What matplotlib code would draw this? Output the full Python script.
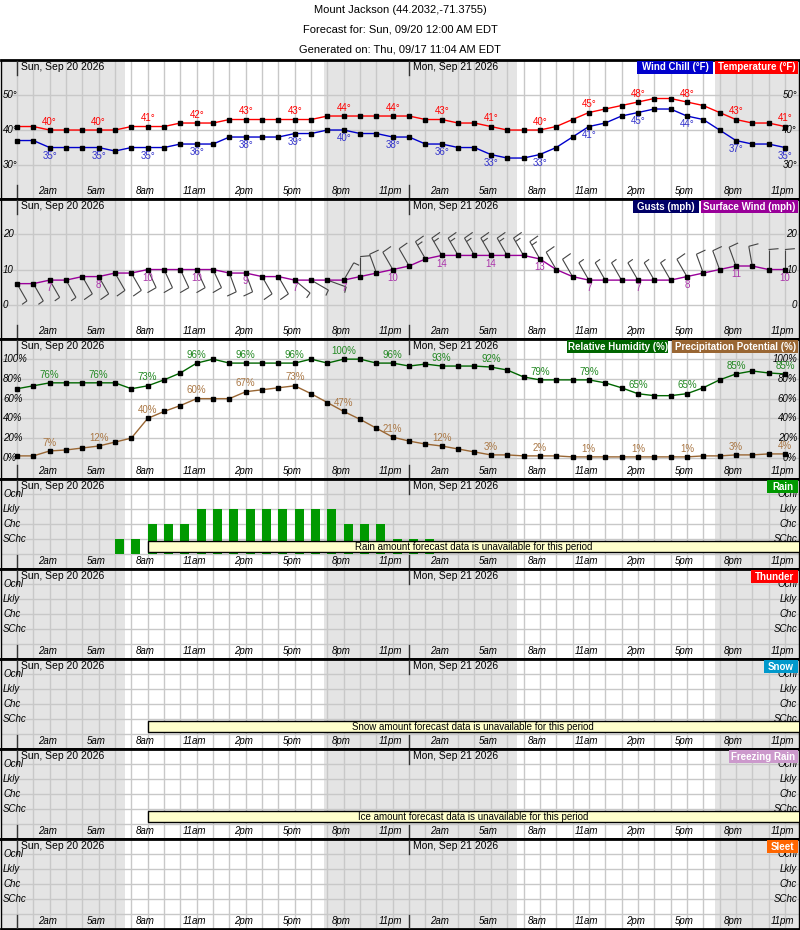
import numpy as np
import matplotlib
matplotlib.use("Agg")
import matplotlib.pyplot as plt
from matplotlib.patches import Rectangle
from matplotlib.collections import LineCollection

plt.rcParams['font.family'] = ['Liberation Sans', 'DejaVu Sans']

hours = list(range(48))
temperature = [41,41,40,40,40,40,40,41,41,41,42,42,42,43,43,43,43,43,43,44,44,44,44,44,
               44,43,43,42,42,41,40,40,40,41,43,45,46,47,48,49,49,48,47,45,43,42,42,41]
wind_chill = [37,37,35,35,35,35,34,35,35,35,36,36,36,38,38,38,38,39,39,40,40,39,39,38,
              38,36,36,35,35,33,32,32,33,35,38,41,42,44,45,46,46,44,43,40,37,36,36,35]
wind_speed = [6,6,7,7,8,8,9,9,10,10,10,10,10,9,9,8,8,7,7,7,7,8,9,10,
              11,13,14,14,14,14,14,14,13,10,8,7,7,7,7,7,7,8,9,10,11,11,10,10]
wind_dir = [150,150,150,150,150,150,150,150,155,155,155,155,155,160,160,150,150,130,120,110,30,0,340,330,
            330,330,330,330,330,330,330,330,330,330,330,330,330,330,330,330,330,330,340,340,340,350,0,0]
humidity = [70,73,76,76,76,76,76,70,73,79,86,96,100,96,96,96,96,96,100,96,100,100,96,96,
            93,95,93,93,93,92,89,82,79,79,79,79,76,71,65,63,63,65,71,79,85,88,86,85]
precip_pot = [2,2,7,8,10,12,16,20,40,47,53,60,60,60,67,69,71,73,65,56,47,39,30,21,
              17,14,12,9,6,3,3,2,2,2,1,1,1,1,1,1,1,1,2,2,3,3,4,4]
# 0 none, 1 SChc, 2 Chc, 3 Lkly, 4 Ocnl
rain_cat = [0,0,0,0,0,0,1,1,2,2,2,3,3,3,3,3,3,3,3,3,2,2,2,1,
            1,1,0,0,0,0,0,0,0,0,0,0,0,0,0,0,0,0,0,0,0,0,0,0]
time_labels = ['2am','5am','8am','11am','2pm','5pm','8pm','11pm']
cat_labels = ['SChc','Chc','Lkly','Ocnl']

W, H = 800, 930
fig = plt.figure(figsize=(8, 9.3), dpi=100)
fig.text(0.5, 1-10/H, 'Mount Jackson (44.2032,-71.3755)', ha='center', va='center', fontsize=8)
fig.text(0.5, 1-30/H, 'Forecast for: Sun, 09/20 12:00 AM EDT', ha='center', va='center', fontsize=8)
fig.text(0.5, 1-50/H, 'Generated on: Thu, 09/17 11:04 AM EDT', ha='center', va='center', fontsize=8)

PX = 16.36
X0 = 16
XMIN = -X0/PX
XMAX = (W-1-X0)/PX
GRAY = '#e4e4e4'
GRID = '#c8c8c8'

def panel(top, bot, ylim, yticks, ylabels, legends):
    ax = fig.add_axes([1/W, 1-bot/H, (W-2)/W, (bot-top)/H])
    ax.set_xlim(XMIN, XMAX)
    ax.set_ylim(*ylim)
    ax.set_xticks([]); ax.set_yticks([])
    for s in ['top', 'bottom']:
        ax.spines[s].set_linewidth(2)
    for s in ['left', 'right']:
        ax.spines[s].set_linewidth(1)
    for a, b in [(XMIN, 6.6), (18.8, 30.6), (42.7, XMAX)]:
        ax.axvspan(a, b, color=GRAY, lw=0, zorder=0)
    for h in hours:
        ax.axvline(h, color=GRID, lw=1, zorder=1)
    for y in yticks:
        ax.axhline(y, color=GRID, lw=1, zorder=1)
    hpx = bot - top
    def fy(px):  # pixels from top -> axes fraction
        return 1 - px/hpx
    tr = ax.get_xaxis_transform()
    for h0, lab in [(0, 'Sun, Sep 20 2026'), (24, 'Mon, Sep 21 2026')]:
        ax.plot([h0, h0], [fy(1), fy(15)], transform=tr, color='#333333', lw=1, zorder=5)
        ax.plot([h0, h0], [fy(hpx-14), fy(hpx)], transform=tr, color='#333333', lw=1, zorder=5)
        ax.text(h0+0.25, fy(7), lab, transform=tr, fontsize=7.5, va='center', ha='left', zorder=6)
    for i, h in enumerate(range(2, 48, 3)):
        ax.text(h-0.15, fy(hpx-8), time_labels[i % 8], transform=tr, fontsize=7, style='italic',
                ha='center', va='center', zorder=6)
    for y, lab in zip(yticks, ylabels):
        if lab:
            ax.text(XMIN+2/PX, y, lab, fontsize=7, style='italic', ha='left', va='center', zorder=6)
            ax.text(XMAX-2/PX, y, lab, fontsize=7, style='italic', ha='right', va='center', zorder=6)
    for (x1, x2, txt, col) in legends:
        ax.add_patch(Rectangle(((x1-X0)/PX, fy(14)), (x2-x1)/PX, 13/hpx, transform=tr,
                               facecolor=col, edgecolor='none', zorder=7))
        ax.text(((x1+x2)/2-X0)/PX, fy(7.5), txt, transform=tr, fontsize=7, fontweight='bold',
                color='white', ha='center', va='center', zorder=8)
    return ax, tr, fy

def series(ax, y, color, lw=1):
    ax.plot(hours, y, color=color, lw=lw, zorder=3)
    ax.plot(hours, y, ls='none', marker='s', ms=2.5, color='black', zorder=4)

lab_h = list(range(2, 48, 3))

# Panel 1: temperature
ax, tr, fy = panel(60, 199, (20.3, 60), [30, 40, 50], ['30°', '40°', '50°'],
                   [(637, 713, 'Wind Chill (°F)', '#0000cc'), (715, 798, 'Temperature (°F)', '#ff0000')])
series(ax, temperature, '#ff0000')
series(ax, wind_chill, '#0000cc')
for h in lab_h:
    ax.annotate(f'{temperature[h]}°', (h, temperature[h]), xytext=(0, 6), textcoords='offset points',
                ha='center', va='center', fontsize=7, color='#ff0000', zorder=6)
    ax.annotate(f'{wind_chill[h]}°', (h, wind_chill[h]), xytext=(0, -6), textcoords='offset points',
                ha='center', va='center', fontsize=7, color='#3333cc', zorder=6)

# Panel 2: wind
P2_YLIM = (-9.7, 30)
ax, tr, fy = panel(199, 339, P2_YLIM, [0, 10, 20], ['0', '10', '20'],
                   [(633, 699, 'Gusts (mph)', '#000066'), (701, 798, 'Surface Wind (mph)', '#990099')])
series(ax, wind_speed, '#990099')
PY = 140/(P2_YLIM[1]-P2_YLIM[0])
segs = []
STAFF = 20
for h, s, d in zip(hours, wind_speed, wind_dir):
    a = np.radians(d)
    dx, dy = np.sin(a), np.cos(a)       # toward where the wind comes from (screen, y up)
    ex, ey = dx*STAFF, dy*STAFF
    segs.append([(h, s), (h+ex/PX, s+ey/PY)])
    r = np.radians(-85)
    fx = dx*np.cos(r) - dy*np.sin(r)
    fyv = dx*np.sin(r) + dy*np.cos(r)
    q = int(round(s/5.0))
    fulls, half = q // 2, q % 2
    pos = STAFF
    for k in range(fulls):
        bx, by = dx*pos, dy*pos
        segs.append([(h+bx/PX, s+by/PY), (h+(bx+fx*10)/PX, s+(by+fyv*10)/PY)])
        pos -= 4
    if half:
        if fulls == 0:
            pos = STAFF
        bx, by = dx*pos, dy*pos
        segs.append([(h+bx/PX, s+by/PY), (h+(bx+fx*6)/PX, s+(by+fyv*6)/PY)])
ax.add_collection(LineCollection(segs, colors='#444444', linewidths=0.8, zorder=2))
for h in lab_h:
    ax.annotate(f'{wind_speed[h]}', (h, wind_speed[h]), xytext=(0, -6), textcoords='offset points',
                ha='center', va='center', fontsize=7, color='#aa33aa', zorder=6)

# Panel 3: humidity / precipitation potential
ax, tr, fy = panel(339, 479, (-21.4, 120.4), [0, 20, 40, 60, 80, 100],
                   ['0%', '20%', '40%', '60%', '80%', '100%'],
                   [(567, 668, 'Relative Humidity (%)', '#006600'), (672, 798, 'Precipitation Potential (%)', '#996633')])
series(ax, humidity, '#006600')
series(ax, precip_pot, '#996633')
for h in lab_h:
    ax.annotate(f'{humidity[h]}%', (h, humidity[h]), xytext=(0, 6), textcoords='offset points',
                ha='center', va='center', fontsize=7, color='#228822', zorder=6)
    ax.annotate(f'{precip_pot[h]}%', (h, precip_pot[h]), xytext=(0, 6), textcoords='offset points',
                ha='center', va='center', fontsize=7, color='#aa7744', zorder=6)

# Category panels
cats = [('Rain', '#009900', 767, True, 'Rain'),
        ('Thunder', '#ff0000', 751, False, None),
        ('Snow', '#0099cc', 764, True, 'Snow'),
        ('Freezing Rain', '#cc99cc', 729, True, 'Ice'),
        ('Sleet', '#ff6600', 767, False, None)]
top = 479
for name, col, x1, box, amt in cats:
    ax, tr, fy = panel(top, top+90, (-1, 5), [0, 1, 2, 3, 4], [''] + cat_labels, [(x1, 798, name, col)])
    if name == 'Rain':
        for h, c in zip(hours, rain_cat):
            if c > 0:
                ax.add_patch(Rectangle((h, 0), 0.55, c, facecolor='#009900', edgecolor='none', zorder=3))
    if box:
        ax.add_patch(Rectangle((8, 0.13), XMAX-8+0.2, 0.74, facecolor='#ffffcc', edgecolor='black',
                               lw=1, zorder=5))
        ax.text((8+XMAX)/2, 0.5, f'{amt} amount forecast data is unavailable for this period',
                fontsize=7, ha='center', va='center', zorder=6)
    top += 90

fig.savefig('out.png', dpi=100)
